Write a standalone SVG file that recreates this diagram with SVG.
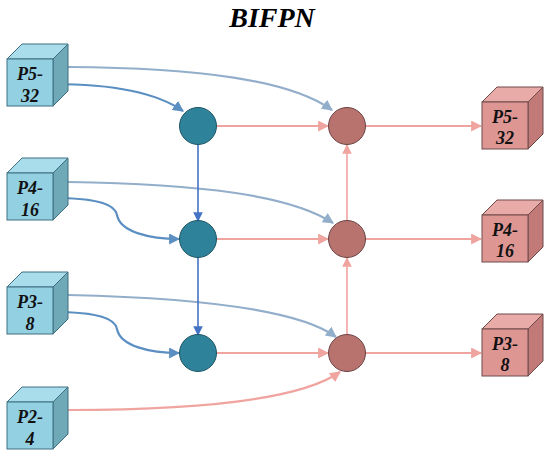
<svg xmlns="http://www.w3.org/2000/svg" width="550" height="453" viewBox="0 0 550 453">
<defs>
<style>
.title{font-family:"Liberation Serif","Times New Roman",serif;font-weight:bold;font-style:italic;font-size:28px;fill:#000}
.lbl{font-family:"Liberation Serif","Times New Roman",serif;font-weight:bold;font-style:italic;font-size:18px;fill:#111;text-anchor:middle}
.bf{fill:#92D0E2;stroke:#3E6F80;stroke-width:1}
.bt{fill:#A9DDEB;stroke:#3E6F80;stroke-width:1}
.bs{fill:#6FA9B8;stroke:#3E6F80;stroke-width:1}
.pf{fill:#DE9693;stroke:#6E4A4A;stroke-width:1}
.pt{fill:#E9ABA8;stroke:#6E4A4A;stroke-width:1}
.ps{fill:#C17A77;stroke:#6E4A4A;stroke-width:1}
.bc{fill:#2E8299;stroke:#1D5566;stroke-width:1}
.pc{fill:#B8736F;stroke:#6A4242;stroke-width:1}
.gray{fill:none;stroke:#93AECA;stroke-width:2.2}
.dblue{fill:none;stroke:#5B8FC2;stroke-width:2.2}
.vblue{fill:none;stroke:#4472C4;stroke-width:1.6}
.pink{fill:none;stroke:#F0A49F;stroke-width:2.2}
.vpink{fill:none;stroke:#F0A49F;stroke-width:1.6}
</style>
<marker id="mg" viewBox="0 0 10 10" refX="9" refY="5" markerWidth="5" markerHeight="5" orient="auto" markerUnits="strokeWidth"><path d="M0,0 L10,5 L0,10 z" fill="#93AECA"/></marker>
<marker id="mb" viewBox="0 0 10 10" refX="9" refY="5" markerWidth="5" markerHeight="5" orient="auto" markerUnits="strokeWidth"><path d="M0,0 L10,5 L0,10 z" fill="#5B8FC2"/></marker>
<marker id="mv" viewBox="0 0 10 10" refX="9" refY="5" markerWidth="6" markerHeight="6" orient="auto" markerUnits="strokeWidth"><path d="M0,0 L10,5 L0,10 z" fill="#4472C4"/></marker>
<marker id="mp" viewBox="0 0 10 10" refX="9" refY="5" markerWidth="5" markerHeight="5" orient="auto" markerUnits="strokeWidth"><path d="M0,0 L10,5 L0,10 z" fill="#F0A49F"/></marker>
<marker id="mvp" viewBox="0 0 10 10" refX="9" refY="5" markerWidth="6" markerHeight="6" orient="auto" markerUnits="strokeWidth"><path d="M0,0 L10,5 L0,10 z" fill="#F0A49F"/></marker>
</defs>
<rect width="550" height="453" fill="#fff"/>
<text class="title" x="272" y="27" text-anchor="middle">BIFPN</text>

<g id="connectors">
<path class="gray" d="M68,67 C200,68 290,80 332,110" marker-end="url(#mg)"/>
<path class="gray" d="M68,182 C200,184 290,195 333,223" marker-end="url(#mg)"/>
<path class="gray" d="M68,295 C200,298 300,310 336,337" marker-end="url(#mg)"/>
<path class="dblue" d="M53,84 C120,84 160,95 183,111" marker-end="url(#mb)"/>
<path class="dblue" d="M53,198 C100,198 115,205 117,215 C120,232 150,239 179,239" marker-end="url(#mb)"/>
<path class="dblue" d="M53,312 C100,312 115,319 117,329 C120,346 150,353 179,353" marker-end="url(#mb)"/>
<path class="vblue" d="M198,144 L198,221" marker-end="url(#mv)"/>
<path class="vblue" d="M198,258 L198,335" marker-end="url(#mv)"/>
<path class="pink" d="M216,126 L328,126" marker-end="url(#mp)"/>
<path class="pink" d="M216,239 L328,239" marker-end="url(#mp)"/>
<path class="pink" d="M216,353 L328,353" marker-end="url(#mp)"/>
<path class="pink" d="M365,126 L481,126" marker-end="url(#mp)"/>
<path class="pink" d="M365,239 L481,239" marker-end="url(#mp)"/>
<path class="pink" d="M365,353 L481,353" marker-end="url(#mp)"/>
<path class="vpink" d="M347,335 L347,258" marker-end="url(#mvp)"/>
<path class="vpink" d="M347,221 L347,145" marker-end="url(#mvp)"/>
<path class="pink" d="M68,410 C200,410 300,400 340,372" marker-end="url(#mp)"/>
</g>

<g id="in-p5">
<polygon class="bt" points="7,59 22,44 68,44 53,59"/>
<polygon class="bs" points="53,59 68,44 68,91 53,106"/>
<rect class="bf" x="7" y="59" width="46" height="47"/>
<text class="lbl" x="30" y="80">P5-</text><text class="lbl" x="30" y="102">32</text>
</g>
<g id="in-p4">
<polygon class="bt" points="7,173 22,158 68,158 53,173"/>
<polygon class="bs" points="53,173 68,158 68,205 53,220"/>
<rect class="bf" x="7" y="173" width="46" height="47"/>
<text class="lbl" x="30" y="194">P4-</text><text class="lbl" x="30" y="216">16</text>
</g>
<g id="in-p3">
<polygon class="bt" points="7,287 22,272 68,272 53,287"/>
<polygon class="bs" points="53,287 68,272 68,319 53,334"/>
<rect class="bf" x="7" y="287" width="46" height="47"/>
<text class="lbl" x="30" y="308">P3-</text><text class="lbl" x="30" y="330">8</text>
</g>
<g id="in-p2">
<polygon class="bt" points="7,402 22,387 68,387 53,402"/>
<polygon class="bs" points="53,402 68,387 68,434 53,449"/>
<rect class="bf" x="7" y="402" width="46" height="47"/>
<text class="lbl" x="30" y="423">P2-</text><text class="lbl" x="30" y="445">4</text>
</g>

<g id="b1"><circle class="bc" cx="198" cy="126" r="18.5"/></g>
<g id="b2"><circle class="bc" cx="198" cy="239" r="18.5"/></g>
<g id="b3"><circle class="bc" cx="198" cy="353" r="18.5"/></g>
<g id="r1"><circle class="pc" cx="347" cy="126" r="18.5"/></g>
<g id="r2"><circle class="pc" cx="347" cy="239" r="18.5"/></g>
<g id="r3"><circle class="pc" cx="347" cy="353" r="18.5"/></g>

<g id="out-p5">
<polygon class="pt" points="482,102 497,87 543,87 528,102"/>
<polygon class="ps" points="528,102 543,87 543,134 528,149"/>
<rect class="pf" x="482" y="102" width="46" height="47"/>
<text class="lbl" x="505" y="123">P5-</text><text class="lbl" x="505" y="144">32</text>
</g>
<g id="out-p4">
<polygon class="pt" points="482,215 497,200 543,200 528,215"/>
<polygon class="ps" points="528,215 543,200 543,247 528,262"/>
<rect class="pf" x="482" y="215" width="46" height="47"/>
<text class="lbl" x="505" y="236">P4-</text><text class="lbl" x="505" y="257">16</text>
</g>
<g id="out-p3">
<polygon class="pt" points="482,329 497,314 543,314 528,329"/>
<polygon class="ps" points="528,329 543,314 543,361 528,376"/>
<rect class="pf" x="482" y="329" width="46" height="47"/>
<text class="lbl" x="505" y="350">P3-</text><text class="lbl" x="505" y="371">8</text>
</g>
</svg>
